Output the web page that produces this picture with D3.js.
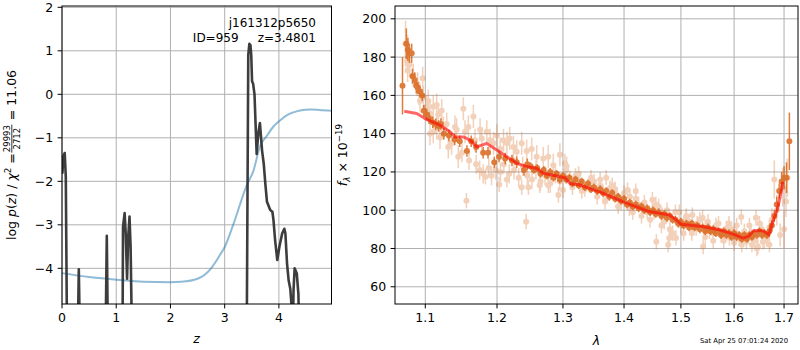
<!DOCTYPE html>
<html><head><meta charset="utf-8">
<script src="https://cdn.jsdelivr.net/npm/d3@7"></script>
<style>body{margin:0;background:#fff} text{font-family:"DejaVu Sans",sans-serif;fill:#000}</style>
</head><body><svg id="c" width="800" height="350"></svg>
<script>
// ---------- data: left panel (redshift PDF) ----------
const pzZ =    [0, 0.008, 0.025, 0.05, 0.07, 0.095, 0.285, 0.31, 0.335, 0.80, 0.826, 0.85, 1.115, 1.125, 1.155, 1.175, 1.20, 1.22, 1.245, 1.265, 1.295, 3.405, 3.435, 3.455, 3.475, 3.49, 3.505, 3.525, 3.55, 3.59, 3.62, 3.65, 3.69, 3.72, 3.75, 3.78, 3.84, 3.88, 3.90, 3.93, 3.97, 4.01, 4.06, 4.10, 4.12, 4.15, 4.18, 4.21, 4.23, 4.25, 4.27, 4.29, 4.33, 4.36, 4.38, 4.97];
const pzLogp = [-1.45, -1.8, -1.42, -1.35, -1.9, -6, -6, -4.02, -6, -6, -3.25, -6, -6, -3.05, -2.73, -3.2, -4.24, -3.3, -2.81, -3.5, -6, -6, 0.9, 1.16, 1.13, 0.9, 0.3, 0.24, 0.0, -1.37, -0.9, -0.66, -1.3, -1.59, -2.06, -2.47, -2.66, -2.70, -2.89, -3.35, -3.81, -3.5, -3.2, -3.09, -3.2, -3.89, -4.28, -4.47, -4.8, -6, -4.5, -4.0, -4.12, -4.6, -6, -9];
const chiZ =   [0, 0.5, 1.0, 1.5, 2.0, 2.2, 2.5, 2.75, 2.91, 3.0, 3.16, 3.41, 3.53, 3.65, 3.78, 3.90, 4.02, 4.15, 4.28, 4.39, 4.58, 4.75, 4.97];
const chiVal = [-4.11, -4.2, -4.26, -4.31, -4.32, -4.31, -4.24, -4.0, -3.7, -3.51, -2.99, -2.08, -1.76, -1.2, -0.95, -0.74, -0.6, -0.48, -0.41, -0.37, -0.35, -0.36, -0.38];
const zTicks = [0, 1, 2, 3, 4];
const pTicks = [-4, -3, -2, -1, 0, 1, 2];
const objName = "j161312p5650";
const objInfo = "ID=959     z=3.4801";

// ---------- data: right panel (spectrum) ----------
const specLam = [1.070, 1.075, 1.077, 1.079, 1.082, 1.083, 1.086, 1.088, 1.090, 1.093, 1.096, 1.098, 1.102, 1.105, 1.110, 1.114, 1.118, 1.121, 1.125, 1.132, 1.140, 1.147, 1.157, 1.163, 1.170, 1.180, 1.187, 1.196, 1.203, 1.212, 1.222, 1.229, 1.240, 1.245,
  1.250, 1.255, 1.260, 1.265, 1.270, 1.275, 1.280, 1.285, 1.290, 1.295, 1.300, 1.305, 1.310, 1.315, 1.320, 1.325, 1.330, 1.335, 1.340, 1.345, 1.350, 1.355, 1.360, 1.365, 1.370, 1.375, 1.380, 1.385, 1.390, 1.395, 1.400, 1.405, 1.410, 1.415, 1.420, 1.425, 1.430, 1.435, 1.440, 1.445, 1.450, 1.455, 1.460, 1.465, 1.470, 1.475, 1.480, 1.485, 1.490, 1.495, 1.500, 1.505, 1.510, 1.515, 1.520, 1.525, 1.530, 1.535, 1.540, 1.545, 1.550, 1.555, 1.560, 1.565, 1.570, 1.575, 1.580, 1.585, 1.590, 1.595, 1.600, 1.605, 1.610, 1.615, 1.620, 1.625, 1.630, 1.635, 1.640, 1.645, 1.650, 1.655, 1.660, 1.665,
  1.670, 1.675, 1.680, 1.685, 1.690, 1.695, 1.700, 1.705, 1.711];
const specFlux = [165, 187, 184, 182, 182, 170, 168, 165, 164, 162, 160, 152, 150, 148, 146, 145, 144, 145, 140, 139, 137, 136, 131, 136, 133, 130, 130, 125, 128, 127, 126, 125, 121, 124,
  123, 121, 122, 119, 121, 118, 120, 117, 119, 116, 118, 116, 117, 114, 116, 113, 115, 112, 114, 111, 112, 110, 111, 109, 110, 107, 109, 106, 107, 105, 106, 103, 104, 102, 103, 101, 102, 100, 101, 99, 100, 98, 99, 97, 98, 96, 97, 95, 95, 93, 94, 92, 93, 91, 93, 91, 92, 90, 91, 89, 91, 89, 90, 88, 89, 87, 89, 87, 88, 86, 88, 86, 87, 85, 87, 85, 87, 86, 88, 87, 89, 87, 88, 87,
  89, 92, 97, 103, 110, 115, 117, 117, 136];
const specErr = [15, 8, 6, 5, 5, 4, 4, 4, 3, 3, 3, 3, 3, 3, 3, 3, 3, 3, 3, 3, 3, 3, 3, 3, 3, 3, 3, 3, 3, 3, 3, 3, 3, 3,
  2, 2, 2, 2, 2, 2, 2, 2, 2, 2, 2, 2, 2, 2, 2, 2, 2, 2, 2, 2, 2, 2, 2, 2, 2, 2, 2, 2, 2, 2, 2, 2, 2, 2, 2, 2, 2, 2, 2, 2, 2, 2, 2, 2, 2, 2, 2, 2, 2, 2, 2, 2, 2, 2, 2, 2, 2, 2, 2, 2, 2, 2, 2, 2, 2, 2, 2, 2, 2, 2, 2, 2, 2, 2, 2, 2, 2, 2, 2, 2, 2, 2, 2, 2,
  3, 3, 3, 4, 4, 5, 6, 8, 15];

const indLam = [1.0739, 1.0767, 1.0761, 1.0767, 1.0793, 1.0841, 1.0899, 1.0916, 1.0965, 1.0930, 1.0973, 1.1040, 1.1019, 1.1063, 1.1107, 1.1153, 1.1175, 1.1221, 1.1153, 1.1063, 1.1107, 1.1198, 1.1243, 1.1289, 1.1311, 1.1357, 1.1403, 1.1426, 1.1449, 1.1520, 1.1543, 1.1590, 1.1661, 1.1684, 1.1756, 1.1780, 1.1852, 1.1900, 1.1949, 1.1998, 1.2047, 1.2095, 1.2145, 1.2187, 1.2242, 1.2291, 1.2365, 1.2440, 1.2516, 1.2592, 1.2693, 1.2770, 1.2848, 1.2952, 1.3031, 1.3057,
  1.1563, 1.2432, 1.1832, 1.2032, 1.2145, 1.2365, 1.2466, 1.2638, 1.2770, 1.2928, 1.3000,
  1.150, 1.160, 1.170, 1.175, 1.180, 1.188, 1.192, 1.198, 1.205, 1.210, 1.218, 1.225, 1.232, 1.238, 1.245, 1.252, 1.258, 1.265, 1.272, 1.280, 1.288, 1.295,
  1.311, 1.327, 1.343, 1.360, 1.368, 1.376, 1.388, 1.406, 1.409, 1.420, 1.432, 1.449, 1.452, 1.456, 1.466, 1.477, 1.479, 1.485, 1.491, 1.497, 1.509, 1.521, 1.528, 1.540, 1.541, 1.553, 1.565, 1.585, 1.591, 1.604, 1.614, 1.624, 1.633, 1.643, 1.647, 1.657, 1.670, 1.680, 1.692, 1.697, 1.704, 1.707,
  1.320, 1.335, 1.350, 1.365, 1.380, 1.395, 1.410, 1.425, 1.440, 1.460, 1.470, 1.500, 1.515, 1.530, 1.545, 1.560, 1.575, 1.595, 1.610, 1.620, 1.640, 1.655, 1.665, 1.675, 1.685, 1.700,
  1.305, 1.315, 1.325, 1.330, 1.345, 1.355, 1.360, 1.370, 1.385, 1.390, 1.400, 1.415, 1.420, 1.430, 1.435, 1.445, 1.455, 1.465, 1.475, 1.480, 1.490, 1.505, 1.510, 1.520, 1.535, 1.545, 1.550, 1.560, 1.570, 1.580, 1.590, 1.600, 1.605, 1.615, 1.630, 1.635, 1.650, 1.660, 1.670, 1.645];
const indFlux = [187, 183.5, 178, 173, 176, 170.5, 166, 161, 169, 157, 159, 157, 154, 150.5, 154, 155, 150, 152, 143, 140, 141, 138, 143, 145, 133, 135, 143.5, 142, 128, 153, 141, 143.5, 149, 136.5, 142, 137.5, 141, 136.5, 135, 139, 132, 136.5, 135, 137.5, 133, 130.5, 135, 131, 132, 128, 127, 128, 123.5, 129, 124.5, 123,
  105, 94, 117.5, 113.5, 116, 112, 112, 113, 113, 108, 110.5,
  130, 126, 124, 121, 119, 122, 118, 121, 120, 124, 119, 121, 117, 123, 118, 116, 121, 115, 118, 114, 119, 115,
  116.7, 115, 113, 116, 104.5, 111.5, 108, 110.5, 101, 106, 101, 105.5, 99, 83.5, 97.5, 82, 85.5, 88, 85.5, 99, 96, 97.5, 90.5, 96, 81, 89, 92, 90.5, 85.5, 88, 96.5, 83.5, 88, 96, 81, 83.5, 82, 116, 87, 112, 104.5, 117,
  118, 111, 115, 109, 113, 104, 107, 103, 99, 102, 94, 92, 94, 93, 91, 88, 87, 90, 85, 89, 84, 90, 85, 95, 100, 90,
  121, 112, 119, 110, 117, 107, 113, 117, 111, 102, 109, 99, 110, 97, 104, 95, 103, 92, 100, 90, 99, 88, 97, 88, 95, 86, 94, 84, 93, 84, 93, 83, 92, 82, 92, 82, 93, 84, 91, 80];
const indErr = [12, 8, 6, 6, 6, 6, 6, 6, 6, 6, 6, 6, 6, 6, 6, 6, 6, 6, 6, 6, 6, 6, 6, 6, 6, 6, 6, 6, 6, 6, 6, 6, 6, 6, 6, 6, 6, 6, 6, 6, 6, 6, 6, 6, 6, 6, 6, 6, 6, 6, 6, 6, 6, 6, 5, 5,
  4, 4, 4, 4, 4, 4, 4, 4, 4, 4, 4,
  5, 5, 5, 5, 5, 5, 5, 5, 5, 5, 5, 5, 5, 5, 5, 5, 5, 5, 5, 5, 5, 5,
  4, 4, 4, 4, 4, 4, 4, 4, 4, 4, 4, 4, 4, 4, 4, 4, 4, 4, 4, 4, 4, 4, 4, 4, 4, 4, 4, 4, 4, 4, 4, 4, 4, 4, 4, 4, 4, 10, 6, 10, 8, 10,
  4, 4, 4, 4, 4, 4, 4, 4, 4, 4, 4, 4, 4, 4, 4, 4, 4, 4, 4, 4, 4, 4, 4, 6, 8, 10,
  4, 4, 4, 4, 4, 4, 4, 4, 4, 4, 4, 4, 4, 4, 4, 4, 4, 4, 4, 4, 4, 4, 4, 4, 4, 4, 4, 4, 4, 4, 4, 4, 4, 4, 4, 4, 4, 4, 4, 4];

const modelLam = [1.0723, 1.0886, 1.0996, 1.1198, 1.1335, 1.1403, 1.1520, 1.1614, 1.1709, 1.1852, 1.1998, 1.2145, 1.2291, 1.2440, 1.2592, 1.2693, 1.3031, 1.311, 1.327, 1.364, 1.3977, 1.420, 1.4436, 1.4613, 1.4792, 1.4913, 1.500, 1.540, 1.5715, 1.598, 1.618, 1.628, 1.638, 1.657, 1.669, 1.676, 1.687, 1.694, 1.697];
const modelFlux = [151.7, 150.5, 147.9, 144.4, 141, 138.3, 138.3, 136.6, 133.1, 134.9, 131.4, 127.9, 124.5, 122.8, 121.9, 119.3, 117, 114, 113.2, 108.9, 104.5, 101.9, 99.3, 98.4, 97.5, 95, 92.7, 91.5, 89.8, 87.5, 85.4, 86.3, 89.3, 89.3, 87.2, 93.2, 101, 109.7, 114.9];
const lamTicks = [1.1, 1.2, 1.3, 1.4, 1.5, 1.6, 1.7];
const fluxTicks = [60, 80, 100, 120, 140, 160, 180, 200];
const stamp = "Sat Apr 25 07:01:24 2020";

// ---------- drawing ----------
const svg = d3.select("#c");
const FS = 12.5, TL = 4.4, PAD = 4.4;
const gridCol = "#b0b0b0";

function panel(x0, x1, y0, y1, xs, ys, xt, yt, xfmt, id) {
  const g = svg.append("g");
  g.append("clipPath").attr("id", id).append("rect").attr("x", x0).attr("y", y0).attr("width", x1 - x0).attr("height", y1 - y0);
  const grid = g.append("g").attr("stroke", gridCol).attr("stroke-width", 1);
  xt.forEach(t => grid.append("line").attr("x1", xs(t)).attr("x2", xs(t)).attr("y1", y0).attr("y2", y1));
  yt.forEach(t => grid.append("line").attr("y1", ys(t)).attr("y2", ys(t)).attr("x1", x0).attr("x2", x1));
  const plot = g.append("g").attr("clip-path", `url(#${id})`);
  const ax = svg.append("g");
  ax.append("rect").attr("x", x0).attr("y", y0).attr("width", x1 - x0).attr("height", y1 - y0)
    .attr("fill", "none").attr("stroke", "#000").attr("stroke-width", 1);
  xt.forEach(t => {
    ax.append("line").attr("x1", xs(t)).attr("x2", xs(t)).attr("y1", y1).attr("y2", y1 + TL).attr("stroke", "#000");
    ax.append("text").attr("x", xs(t)).attr("y", y1 + TL + PAD + FS * 0.76).attr("text-anchor", "middle")
      .attr("font-size", FS).text(xfmt(t));
  });
  yt.forEach(t => {
    ax.append("line").attr("x1", x0 - TL).attr("x2", x0).attr("y1", ys(t)).attr("y2", ys(t)).attr("stroke", "#000");
    ax.append("text").attr("x", x0 - TL - PAD).attr("y", ys(t)).attr("dy", "0.36em").attr("text-anchor", "end")
      .attr("font-size", FS).text(d3.format("")(t).replace("-", "\u2212"));
  });
  return plot;
}

// left panel
const xL = d3.scaleLinear().domain([0, 4.97]).range([62, 331.5]);
const yL = d3.scaleLinear().domain([-4.82, 2.03]).range([304, 6]);
const pL = panel(62, 331.5, 6, 304, xL, yL, zTicks, pTicks, d => String(d), "clipL");
pL.append("path").datum(d3.zip(chiZ, chiVal))
  .attr("d", d3.line().x(d => xL(d[0])).y(d => yL(d[1])).curve(d3.curveMonotoneX))
  .attr("fill", "none").attr("stroke", "#1f77b4").attr("stroke-opacity", 0.5).attr("stroke-width", 2);
pL.append("path").datum(d3.zip(pzZ, pzLogp))
  .attr("d", d3.line().x(d => xL(d[0])).y(d => yL(d[1])))
  .attr("fill", "none").attr("stroke", "#333").attr("stroke-opacity", 0.95).attr("stroke-width", 2.6).attr("stroke-linejoin", "round");

svg.append("text").attr("x", 316).attr("y", 27).attr("text-anchor", "end").attr("font-size", 12).text(objName);
svg.append("text").attr("x", 316).attr("y", 42).attr("text-anchor", "end").attr("font-size", 12)
  .style("white-space", "pre").text(objInfo);

// left x label
svg.append("text").attr("x", 196.5).attr("y", 343).attr("text-anchor", "middle").attr("font-size", FS)
  .attr("font-style", "italic").text("z");

// left y label (rotated, with fraction)
{
  const g = svg.append("g").attr("transform", "translate(16,155) rotate(-90)");
  const t1 = g.append("text").attr("font-size", FS).attr("x", 0).attr("y", 0);
  t1.append("tspan").text("log ");
  t1.append("tspan").attr("font-style", "italic").text("p");
  t1.append("tspan").text("(");
  t1.append("tspan").attr("font-style", "italic").text("z");
  t1.append("tspan").text(") / ");
  t1.append("tspan").attr("font-style", "italic").text("\u03c7");
  t1.append("tspan").attr("font-size", FS * 0.7).attr("dy", -5).text("2");
  t1.append("tspan").attr("dy", 5).text(" = ");
  const w1 = t1.node().getComputedTextLength();
  const fs2 = 8.5;
  const num = g.append("text").attr("font-size", fs2).attr("text-anchor", "middle").attr("y", -6).text("29993");
  const den = g.append("text").attr("font-size", fs2).attr("text-anchor", "middle").attr("y", 3.5).text("2712");
  const wf = Math.max(num.node().getComputedTextLength(), den.node().getComputedTextLength());
  num.attr("x", w1 + wf / 2 + 1); den.attr("x", w1 + wf / 2 + 1);
  g.append("line").attr("x1", w1 + 0.5).attr("x2", w1 + wf + 1.5).attr("y1", -4.2).attr("y2", -4.2)
    .attr("stroke", "#000").attr("stroke-width", 0.8);
  const t3 = g.append("text").attr("font-size", FS).attr("x", w1 + wf + 2).attr("y", 0).style("white-space", "pre").text(" = 11.06");
  const tot = w1 + wf + 2 + t3.node().getComputedTextLength();
  g.attr("transform", `translate(16,${155 + tot / 2}) rotate(-90)`);
}

// right panel
const xR = d3.scaleLog().domain([1.0603, 1.729]).range([395, 798]);
const yR = d3.scaleLinear().domain([51, 206.7]).range([304, 6]);
const pR = panel(395, 798, 6, 304, xR, yR, lamTicks, fluxTicks, d => d.toFixed(1), "clipR");
const orange = "#d9661a";
const ind = d3.range(indLam.length).map(i => ({l: indLam[i], f: indFlux[i], e: indErr[i]}));
const gi = pR.append("g").attr("opacity", 0.3);
ind.forEach(d => {
  gi.append("line").attr("x1", xR(d.l)).attr("x2", xR(d.l)).attr("y1", yR(d.f - d.e)).attr("y2", yR(d.f + d.e))
    .attr("stroke", orange).attr("stroke-width", 1.5);
  gi.append("circle").attr("cx", xR(d.l)).attr("cy", yR(d.f)).attr("r", 3).attr("fill", orange);
});
const sp = d3.range(specLam.length).map(i => ({l: specLam[i], f: specFlux[i], e: specErr[i]}));
const gs = pR.append("g").attr("opacity", 0.85);
sp.forEach(d => {
  gs.append("line").attr("x1", xR(d.l)).attr("x2", xR(d.l)).attr("y1", yR(d.f - d.e)).attr("y2", yR(d.f + d.e))
    .attr("stroke", orange).attr("stroke-width", 1.5);
  gs.append("circle").attr("cx", xR(d.l)).attr("cy", yR(d.f)).attr("r", 3).attr("fill", orange);
});
pR.append("path").datum(d3.zip(modelLam, modelFlux))
  .attr("d", d3.line().x(d => xR(d[0])).y(d => yR(d[1])))
  .attr("fill", "none").attr("stroke", "red").attr("stroke-opacity", 0.6).attr("stroke-width", 3).attr("stroke-linejoin", "round");

// right labels
svg.append("text").attr("x", 596.5).attr("y", 345).attr("text-anchor", "middle").attr("font-size", FS)
  .attr("font-style", "italic").text("\u03bb");
{
  const t = svg.append("text").attr("transform", "translate(347,155) rotate(-90)").attr("text-anchor", "middle").attr("font-size", FS);
  t.append("tspan").attr("font-style", "italic").text("f");
  t.append("tspan").attr("font-style", "italic").attr("font-size", FS * 0.7).attr("dy", 3).text("\u03bb");
  t.append("tspan").attr("dy", -3).style("white-space", "pre").text(" \u00d7 10");
  t.append("tspan").attr("font-size", FS * 0.7).attr("dy", -5).text("\u221219");
}
svg.append("text").attr("x", 788).attr("y", 343).attr("text-anchor", "end").attr("font-size", 6.8).text(stamp);
</script></body></html>
